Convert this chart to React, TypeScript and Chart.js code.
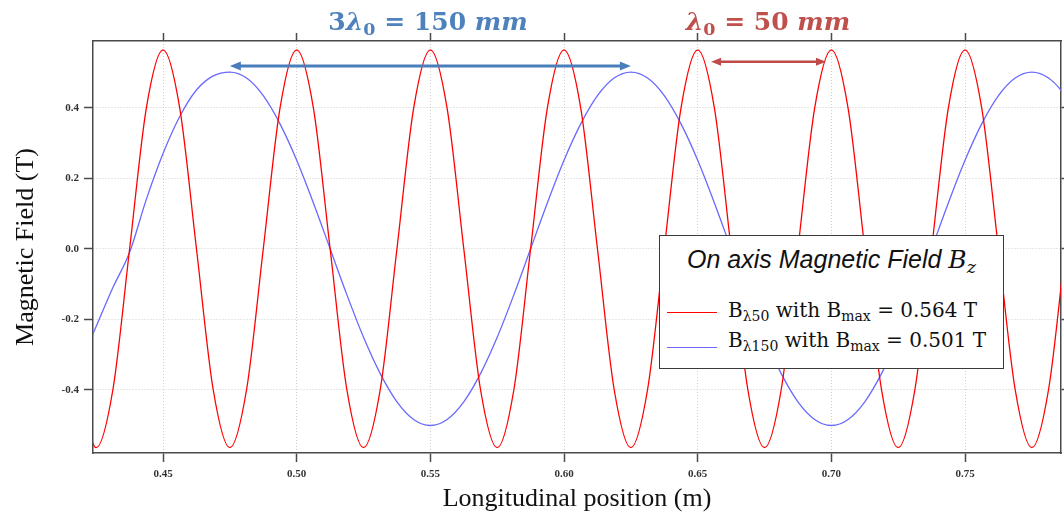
import React, { useEffect, useRef } from "react";
import { Chart, registerables } from "chart.js";

Chart.register(...registerables);

// Longitudinal positions (m)
const positions = [
  0.41875, 0.425, 0.43125, 0.4375, 0.44375, 0.45, 0.45625, 0.4625, 0.46875, 0.475,
  0.48125, 0.4875, 0.49375, 0.5, 0.50625, 0.5125, 0.51875, 0.525, 0.53125, 0.5375,
  0.54375, 0.55, 0.55625, 0.5625, 0.56875, 0.575, 0.58125, 0.5875, 0.59375, 0.6,
  0.60625, 0.6125, 0.61875, 0.625, 0.63125, 0.6375, 0.64375, 0.65, 0.65625, 0.6625,
  0.66875, 0.675, 0.68125, 0.6875, 0.69375, 0.7, 0.70625, 0.7125, 0.71875, 0.725,
  0.73125, 0.7375, 0.74375, 0.75, 0.75625, 0.7625, 0.76875, 0.775, 0.78125, 0.7875,
  0.79375,
];

// B field, lambda = 50 mm (T)
const bLambda50 = [
  -0.399, -0.564, -0.399, 0, 0.399, 0.564, 0.399, 0,
  -0.399, -0.564, -0.399, 0, 0.399, 0.564, 0.399, 0,
  -0.399, -0.564, -0.399, 0, 0.399, 0.564, 0.399, 0,
  -0.399, -0.564, -0.399, 0, 0.399, 0.564, 0.399, 0,
  -0.399, -0.564, -0.399, 0, 0.399, 0.564, 0.399, 0,
  -0.399, -0.564, -0.399, 0, 0.399, 0.564, 0.399, 0,
  -0.399, -0.564, -0.399, 0, 0.399, 0.564, 0.399, 0,
  -0.399, -0.564, -0.399, 0, 0.399,
];

// B field, lambda = 150 mm (T)
const bLambda150 = [
  -0.33, -0.22, -0.11, -0.01, 0.14, 0.27, 0.375, 0.45, 0.49, 0.501,
  0.484, 0.434, 0.354, 0.251, 0.13, 0, -0.13, -0.251, -0.354, -0.434,
  -0.484, -0.501, -0.484, -0.434, -0.354, -0.251, -0.13, 0, 0.13, 0.251,
  0.354, 0.434, 0.484, 0.501, 0.484, 0.434, 0.354, 0.251, 0.13, 0,
  -0.13, -0.251, -0.354, -0.434, -0.484, -0.501, -0.484, -0.434, -0.354, -0.251,
  -0.13, 0, 0.13, 0.251, 0.354, 0.434, 0.484, 0.501, 0.484, 0.434,
  0.354,
];

const xRange = [0.4238, 0.7859];
const yRange = [-0.579, 0.589];
const xTickStep = 0.05;
const yTickStep = 0.2;

// Annotation arrows: [start, end, level] in data units
const arrow3Lambda = [0.475, 0.625, 0.518];
const arrowLambda = [0.655, 0.698, 0.53];

const RED = "rgb(255,0,0)";
const BLUE = "rgb(105,105,255)";
const ANN_BLUE = "#4F81BD";
const ANN_RED = "#C0504D";
const AXIS = "#4a4a4a";
const GRID = "#cfcfcf";

function drawArrow(ctx: CanvasRenderingContext2D, x1: number, x2: number, y: number, color: string, lw: number, hl: number, hw: number) {
  ctx.save();
  ctx.strokeStyle = color;
  ctx.fillStyle = color;
  ctx.lineWidth = lw;
  ctx.beginPath();
  ctx.moveTo(x1 + hl - 1, y);
  ctx.lineTo(x2 - hl + 1, y);
  ctx.stroke();
  ctx.beginPath();
  ctx.moveTo(x1, y);
  ctx.lineTo(x1 + hl, y - hw);
  ctx.lineTo(x1 + hl, y + hw);
  ctx.closePath();
  ctx.fill();
  ctx.beginPath();
  ctx.moveTo(x2, y);
  ctx.lineTo(x2 - hl, y - hw);
  ctx.lineTo(x2 - hl, y + hw);
  ctx.closePath();
  ctx.fill();
  ctx.restore();
}

const arrowPlugin = {
  id: "arrows",
  afterDatasetsDraw(chart: any) {
    const { ctx, scales } = chart;
    const x = scales.x;
    const y = scales.y;
    drawArrow(ctx, x.getPixelForValue(arrow3Lambda[0]), x.getPixelForValue(arrow3Lambda[1]), y.getPixelForValue(arrow3Lambda[2]), "#4A7EBB", 3, 11, 4.5);
    drawArrow(ctx, x.getPixelForValue(arrowLambda[0]), x.getPixelForValue(arrowLambda[1]), y.getPixelForValue(arrowLambda[2]), "#BE4B48", 2.5, 10, 4);
  },
};

const tickFont = { family: "'Liberation Serif', serif", size: 11, weight: "bold" as const };
const titleFont = { family: "'Liberation Serif', serif", size: 26 };

export default function App() {
  const canvasRef = useRef<HTMLCanvasElement | null>(null);

  useEffect(() => {
    const canvas = canvasRef.current;
    if (!canvas) return;
    const chart = new Chart(canvas, {
      type: "line",
      data: {
        datasets: [
          {
            label: "B50",
            data: positions.map((p, i) => ({ x: p, y: bLambda50[i] })),
            borderColor: RED,
            borderWidth: 1.3,
            pointRadius: 0,
            cubicInterpolationMode: "monotone",
            fill: false,
          },
          {
            label: "B150",
            data: positions.map((p, i) => ({ x: p, y: bLambda150[i] })),
            borderColor: BLUE,
            borderWidth: 1.3,
            pointRadius: 0,
            cubicInterpolationMode: "monotone",
            fill: false,
          },
        ],
      },
      options: {
        animation: false,
        responsive: false,
        devicePixelRatio: 1,
        layout: { padding: 0 },
        plugins: { legend: { display: false }, tooltip: { enabled: false } },
        scales: {
          x: {
            type: "linear",
            position: "bottom",
            min: xRange[0],
            max: xRange[1],
            afterFit: (s: any) => { s.height = 64; },
            ticks: {
              stepSize: xTickStep,
              includeBounds: false,
              autoSkip: false,
              maxRotation: 0,
              padding: 6,
              color: "#333",
              font: tickFont,
              callback: (v: any) => Number(v).toFixed(2),
            },
            grid: { color: GRID, lineWidth: 1, tickLength: 9, tickColor: AXIS, tickWidth: 1.5, tickBorderDash: [] },
            border: { display: true, color: AXIS, width: 1.5, dash: [1, 2] },
            title: { display: true, text: "Longitudinal position (m)", color: "#111", font: titleFont, padding: { top: 0, bottom: 2 } },
          },
          xTop: {
            type: "linear",
            position: "top",
            min: xRange[0],
            max: xRange[1],
            afterFit: (s: any) => { s.height = 41; },
            ticks: { display: false, stepSize: xTickStep, includeBounds: false, autoSkip: false },
            grid: { drawOnChartArea: false, tickLength: 8, tickColor: AXIS, tickWidth: 1.5, color: AXIS },
            border: { display: true, color: AXIS, width: 1.5 },
          },
          y: {
            type: "linear",
            position: "left",
            min: yRange[0],
            max: yRange[1],
            afterFit: (s: any) => { s.width = 93; },
            ticks: {
              stepSize: yTickStep,
              includeBounds: false,
              padding: 5,
              color: "#333",
              font: tickFont,
              callback: (v: any) => Number(v).toFixed(1),
            },
            grid: { color: GRID, lineWidth: 1, tickLength: 9, tickColor: AXIS, tickWidth: 1.5, tickBorderDash: [] },
            border: { display: true, color: AXIS, width: 1.5, dash: [1, 2] },
            title: { display: true, text: "Magnetic Field (T)", color: "#111", font: titleFont, padding: { top: 11, bottom: 0 } },
          },
          yRight: {
            type: "linear",
            position: "right",
            min: yRange[0],
            max: yRange[1],
            afterFit: (s: any) => { s.width = 3; },
            ticks: { display: false, stepSize: yTickStep, includeBounds: false },
            grid: { drawOnChartArea: false, tickLength: 3, tickColor: AXIS, tickWidth: 1.5, color: AXIS },
            border: { display: true, color: AXIS, width: 1.5 },
          },
        },
      },
      plugins: [arrowPlugin],
    } as any);
    return () => chart.destroy();
  }, []);

  const sub: React.CSSProperties = { fontSize: "0.7em", verticalAlign: "-0.3em" };
  const annStyle: React.CSSProperties = {
    position: "absolute",
    top: 7,
    transform: "translateX(-50%)",
    whiteSpace: "nowrap",
    fontFamily: "'DejaVu Serif', serif",
    fontWeight: "bold",
    fontSize: 25,
    lineHeight: "normal",
  };
  const entryStyle: React.CSSProperties = {
    position: "absolute",
    left: 728,
    whiteSpace: "nowrap",
    fontFamily: "'DejaVu Serif', serif",
    fontSize: 20,
    lineHeight: "normal",
    color: "#111",
  };

  return (
    <div style={{ position: "absolute", left: 0, top: 0, width: 1064, height: 517, background: "#fff" }}>
      <canvas ref={canvasRef} width={1064} height={517} style={{ position: "absolute", left: 0, top: 0, width: 1064, height: 517 }} />
      <div style={{ ...annStyle, left: 428, color: ANN_BLUE }}>
        3<i>λ</i><span style={sub}>0</span> = 150 <i>mm</i>
      </div>
      <div style={{ ...annStyle, left: 768, color: ANN_RED }}>
        <i>λ</i><span style={sub}>0</span> = 50 <i>mm</i>
      </div>
      <div style={{ position: "absolute", left: 659, top: 235, width: 345, height: 134, boxSizing: "border-box", border: "1.5px solid #3a3a3a", background: "#fff" }} />
      <div style={{ position: "absolute", left: 659, width: 345, top: 245, textAlign: "center", whiteSpace: "nowrap", fontFamily: "'Liberation Sans', sans-serif", fontStyle: "italic", fontSize: 25, lineHeight: "normal", color: "#111" }}>
        On axis Magnetic Field <span style={{ fontFamily: "'DejaVu Serif', serif" }}>B<span style={sub}>z</span></span>
      </div>
      <div style={{ position: "absolute", left: 667, top: 312, width: 50, height: 1.3, background: RED }} />
      <div style={{ position: "absolute", left: 667, top: 347, width: 50, height: 1.3, background: BLUE }} />
      <div style={{ ...entryStyle, top: 298 }}>
        B<span style={sub}>λ50</span> with B<span style={sub}>max</span> = 0.564 T
      </div>
      <div style={{ ...entryStyle, top: 328 }}>
        B<span style={sub}>λ150</span> with B<span style={sub}>max</span> = 0.501 T
      </div>
    </div>
  );
}
